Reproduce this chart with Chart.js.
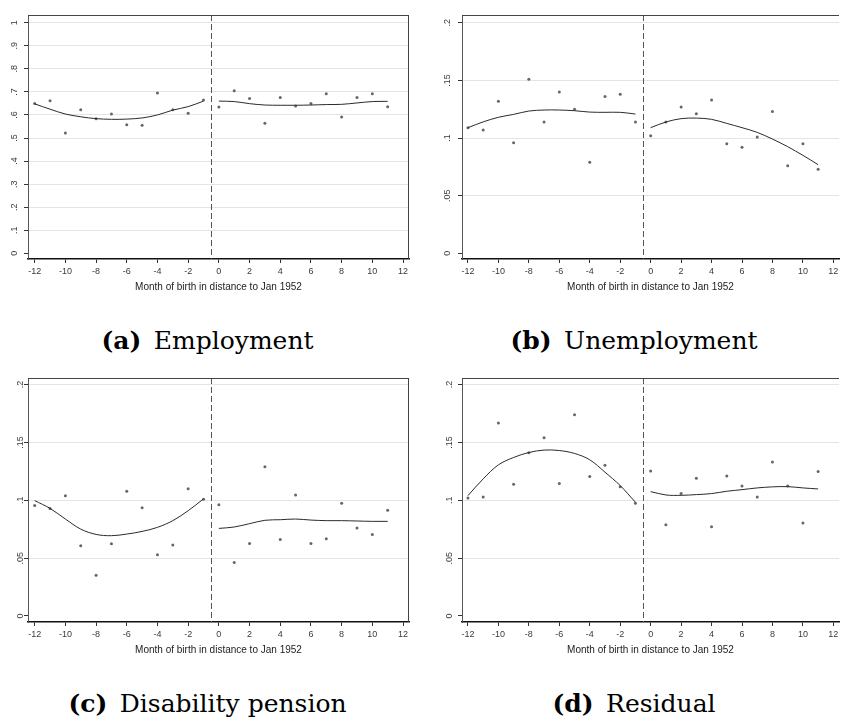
<!DOCTYPE html>
<html><head><meta charset="utf-8">
<script src="https://cdn.jsdelivr.net/npm/chart.js@4.4.0/dist/chart.umd.min.js"></script>
<style>
body{margin:0;background:#fff;width:843px;height:725px;position:relative;overflow:hidden}
.pn{position:absolute}
.cap{position:absolute;font-family:"DejaVu Serif",serif;font-size:25px;line-height:30px;color:#000;text-align:center;white-space:nowrap}
</style></head><body>
<div class="pn" style="left:0;top:0"><canvas id="ca" width="415" height="300"></canvas></div>
<div class="pn" style="left:425px;top:0"><canvas id="cb" width="418" height="300"></canvas></div>
<div class="pn" style="left:0;top:363px"><canvas id="cc" width="415" height="300"></canvas></div>
<div class="pn" style="left:425px;top:363px"><canvas id="cd" width="418" height="300"></canvas></div>
<div class="cap" id="capa" style="left:0;top:326px;width:415px"></div>
<div class="cap" id="capb" style="left:425px;top:326px;width:418px"></div>
<div class="cap" id="capc" style="left:0;top:689px;width:415px"></div>
<div class="cap" id="capd" style="left:425px;top:689px;width:418px"></div>
<script>
// ---- data ----
const months = [-12,-11,-10,-9,-8,-7,-6,-5,-4,-3,-2,-1,0,1,2,3,4,5,6,7,8,9,10,11];
const monthsLeft = [-12,-11,-10,-9,-8,-7,-6,-5,-4,-3,-2,-1];
const monthsRight = [0,1,2,3,4,5,6,7,8,9,10,11];
const cutoff = -0.5;
const xTicks = [-12,-10,-8,-6,-4,-2,0,2,4,6,8,10,12];
const xTitle = "Month of birth in distance to Jan 1952";

const employment = [0.650,0.662,0.522,0.623,0.584,0.604,0.558,0.555,0.695,0.623,0.607,0.665,
                    0.634,0.705,0.671,0.564,0.676,0.639,0.650,0.692,0.591,0.676,0.692,0.636];
const employmentFitLeft = [0.648,0.625,0.604,0.592,0.584,0.581,0.582,0.587,0.600,0.621,0.636,0.660];
const employmentFitRight = [0.660,0.658,0.649,0.643,0.642,0.642,0.643,0.645,0.646,0.652,0.658,0.659];

const unemployment = [0.109,0.107,0.132,0.096,0.151,0.114,0.140,0.125,0.079,0.136,0.138,0.114,
                      0.102,0.114,0.127,0.121,0.133,0.095,0.092,0.101,0.123,0.076,0.095,0.073];
const unemploymentFitLeft = [0.109,0.114,0.118,0.1205,0.1234,0.1243,0.1243,0.1237,0.1225,0.1223,0.1223,0.1208];
const unemploymentFitRight = [0.109,0.1139,0.1168,0.1173,0.1162,0.1127,0.109,0.1049,0.0991,0.0925,0.085,0.0769];

const disability = [0.0954,0.093,0.104,0.0607,0.0353,0.0624,0.1078,0.0936,0.0529,0.0613,0.110,0.101,
                    0.0962,0.0462,0.0627,0.129,0.0662,0.1046,0.0627,0.0668,0.0974,0.076,0.0705,0.0913];
const disabilityFitLeft = [0.0997,0.093,0.0838,0.0751,0.0705,0.0694,0.0708,0.0731,0.0766,0.0824,0.0910,0.1012];
const disabilityFitRight = [0.0757,0.0769,0.0798,0.0827,0.0832,0.0838,0.0829,0.0824,0.0824,0.0821,0.0818,0.0818];

const residual = [0.102,0.1029,0.1668,0.1139,0.141,0.154,0.1145,0.174,0.1205,0.1303,0.1116,0.0974,
                  0.1254,0.0789,0.1058,0.1191,0.0772,0.1211,0.1124,0.1029,0.1332,0.1124,0.0803,0.1249];
const residualFitLeft = [0.104,0.1185,0.1306,0.137,0.1413,0.1434,0.143,0.1405,0.135,0.1243,0.1127,0.0983];
const residualFitRight = [0.1075,0.1046,0.1043,0.1049,0.1058,0.1078,0.1092,0.1107,0.1116,0.1118,0.1107,0.1098];

const yTicksEmp = [0,0.1,0.2,0.3,0.4,0.5,0.6,0.7,0.8,0.9,1];
const yLabelsEmp = ["0",".1",".2",".3",".4",".5",".6",".7",".8",".9","1"];
const yTicksSmall = [0,0.05,0.1,0.15,0.2];
const yLabelsSmall = ["0",".05",".1",".15",".2"];

const captionA = ["(a)", "Employment"];
const captionB = ["(b)", "Unemployment"];
const captionC = ["(c)", "Disability pension"];
const captionD = ["(d)", "Residual"];

// ---- drawing ----
const FONT = "'Liberation Sans', Arial, sans-serif";
const framePlugin = {
  id: 'frame',
  beforeDatasetsDraw(chart, args, opts) {
    const ctx = chart.ctx, a = chart.chartArea, xs = chart.scales.x;
    const cx = xs.getPixelForValue(cutoff);
    ctx.save();
    ctx.strokeStyle = '#555'; ctx.lineWidth = 1; ctx.setLineDash([6,3]);
    ctx.beginPath(); ctx.moveTo(Math.round(cx)+0.5, a.top); ctx.lineTo(Math.round(cx)+0.5, a.bottom); ctx.stroke();
    ctx.restore();
  },
  afterDraw(chart, args, opts) {
    const ctx = chart.ctx, a = chart.chartArea, ys = chart.scales.y;
    ctx.save();
    ctx.strokeStyle = '#444'; ctx.lineWidth = 1;
    ctx.beginPath();
    ctx.moveTo(a.left, Math.round(a.top)+0.5); ctx.lineTo(a.right, Math.round(a.top)+0.5);
    if (opts.right) { ctx.moveTo(Math.round(a.right)-0.5, a.top); ctx.lineTo(Math.round(a.right)-0.5, a.bottom); }
    ctx.stroke();
    ctx.fillStyle = '#3a3a3a'; ctx.font = '9px ' + FONT;
    ctx.textAlign = 'center'; ctx.textBaseline = 'middle';
    opts.ticks.forEach((v, i) => {
      ctx.save();
      ctx.translate(a.left + opts.labelOffset, ys.getPixelForValue(v));
      ctx.rotate(-Math.PI/2);
      ctx.fillText(opts.labels[i], 0, 0);
      ctx.restore();
    });
    ctx.restore();
  }
};

function makePanel(id, p) {
  const pts = months.map((m, i) => ({x: m, y: p.points[i]}));
  const fl = monthsLeft.map((m, i) => ({x: m, y: p.fitL[i]}));
  const fr = monthsRight.map((m, i) => ({x: m, y: p.fitR[i]}));
  const lineDs = d => ({data: d, showLine: true, borderColor: '#2a2a2a', borderWidth: 1, pointRadius: 0, tension: 0.35, fill: false});
  new Chart(document.getElementById(id), {
    type: 'scatter',
    data: { datasets: [
      lineDs(fl), lineDs(fr),
      {data: pts, showLine: false, pointRadius: 1.5, pointBorderWidth: 0, pointBackgroundColor: '#666'}
    ]},
    options: {
      responsive: false, animation: false, devicePixelRatio: 1,
      layout: {padding: {top: 15, right: p.padRight, left: 0, bottom: 0}},
      plugins: {legend: {display: false}, tooltip: {enabled: false},
        frame: {right: p.rightBorder, ticks: p.yTicks, labels: p.yLabels, labelOffset: p.labelOffset}},
      scales: {
        x: {type: 'linear', min: p.xMin, max: p.xMax,
          afterBuildTicks: s => { s.ticks = xTicks.map(v => ({value: v})); },
          afterFit: s => { s.height = 41; },
          ticks: {autoSkip: false, minRotation: 0, maxRotation: 0, padding: 3, color: '#3a3a3a',
            font: {size: 9, family: FONT}, callback: v => String(v)},
          grid: {drawOnChartArea: false, drawTicks: true, tickLength: 4, tickColor: '#333', tickWidth: 1},
          border: {display: true, color: '#111', width: 1.5},
          title: {display: true, text: xTitle, color: '#222', font: {size: 10, family: FONT}, padding: {top: 2, bottom: 7}}
        },
        y: {type: 'linear', min: p.yMin, max: p.yMax,
          afterBuildTicks: s => { s.ticks = p.yTicks.map(v => ({value: v})); },
          afterFit: s => { s.width = p.yWidth; },
          ticks: {display: false},
          grid: {color: c => (c.tick && c.tick.value === 0) ? 'rgba(0,0,0,0)' : '#e4e4e4', lineWidth: 1,
            drawTicks: true, tickLength: 4, tickColor: '#333', tickWidth: 1},
          border: {display: true, color: '#555', width: 1}
        }
      }
    },
    plugins: [framePlugin]
  });
}

makePanel('ca', {points: employment, fitL: employmentFitLeft, fitR: employmentFitRight,
  yTicks: yTicksEmp, yLabels: yLabelsEmp, yMin: -0.0247, yMax: 1.0334, xMin: -12.436, xMax: 12.39,
  yWidth: 28, padRight: 6, rightBorder: true, labelOffset: -13.5});
makePanel('cb', {points: unemployment, fitL: unemploymentFitLeft, fitR: unemploymentFitRight,
  yTicks: yTicksSmall, yLabels: yLabelsSmall, yMin: -0.0049, yMax: 0.2067, xMin: -12.39, xMax: 12.37,
  yWidth: 37, padRight: 0, rightBorder: false, labelOffset: -14});
makePanel('cc', {points: disability, fitL: disabilityFitLeft, fitR: disabilityFitRight,
  yTicks: yTicksSmall, yLabels: yLabelsSmall, yMin: -0.0052, yMax: 0.2057, xMin: -12.436, xMax: 12.39,
  yWidth: 28, padRight: 6, rightBorder: true, labelOffset: -7});
makePanel('cd', {points: residual, fitL: residualFitLeft, fitR: residualFitRight,
  yTicks: yTicksSmall, yLabels: yLabelsSmall, yMin: -0.0052, yMax: 0.2057, xMin: -12.39, xMax: 12.37,
  yWidth: 37, padRight: 0, rightBorder: false, labelOffset: -12});

[['capa', captionA], ['capb', captionB], ['capc', captionC], ['capd', captionD]].forEach(([id, c]) => {
  const el = document.getElementById(id);
  const b = document.createElement('b'); b.textContent = c[0];
  el.appendChild(b);
  el.appendChild(document.createTextNode('\u2002' + c[1]));
});
</script>
</body></html>
